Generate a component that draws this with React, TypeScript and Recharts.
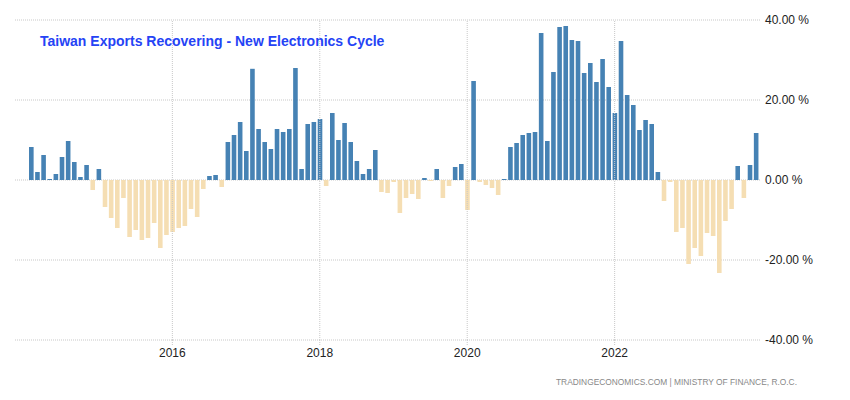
import React from "react";
import {
  BarChart,
  Bar,
  Cell,
  XAxis,
  YAxis,
  CartesianGrid,
  ReferenceLine,
} from "recharts";

// Taiwan exports, YoY % change, monthly Feb 2014 .. Dec 2023
const MONTHS = ["Jan", "Feb", "Mar", "Apr", "May", "Jun", "Jul", "Aug", "Sep", "Oct", "Nov", "Dec"];
const YEARS = [2014, 2015, 2016, 2017, 2018, 2019, 2020, 2021, 2022, 2023];

const exportsYoY = [
  // 2014 (Feb-Dec)
  8.25, 2.0, 6.25, 0.25, 1.5, 5.75, 9.75, 4.5, 0.75, 3.75, -2.5,
  // 2015
  2.75, -6.75, -9.5, -12, -4.5, -14.25, -12.5, -15, -14.5, -10.75, -17, -13.75,
  // 2016
  -13, -12, -11.5, -7.25, -9.25, -2.25, 1.0, 1.25, -1.75, 9.5, 11.25, 14.5,
  // 2017
  7.25, 27.8, 12.75, 9.5, 7.75, 12.75, 12, 12.75, 28, 2.75, 14, 14.5,
  // 2018
  15.25, -1.5, 16.75, 10, 14.25, 9.5, 4.75, 1.5, 2.75, 7.5, -3, -3.25,
  // 2019
  -0.5, -8.25, -4.5, -3.5, -4.75, 0.5, -0.25, 2.75, -4.5, -1.5, 3.25, 4.0,
  // 2020
  -7.5, 24.75, -0.5, -1.25, -2.0, -3.75, 0.25, 8.25, 9.25, 11.25, 11.75, 12.0,
  // 2021
  36.75, 9.75, 27, 38.25, 38.5, 35, 34.75, 26.75, 29.25, 24.5, 30.25, 23.25,
  // 2022
  16.75, 34.75, 21.25, 18.75, 12.5, 15, 14, 2, -5.25, -0.5, -13, -12,
  // 2023
  -21, -17, -19, -13.25, -14, -23.25, -10.25, -7.25, 3.5, -4.5, 3.75, 11.75,
];

const categories: string[] = YEARS.flatMap((y) => MONTHS.map((m) => `${m} ${y}`)).slice(1);

const xTicks = ["Jan 2016", "Jan 2018", "Jan 2020", "Jan 2022"];
const yTicks = [-40, -20, 0, 20, 40];

const data = categories.map((date, i) => ({ date, value: exportsYoY[i] }));

const POS = "#4682b4";
const NEG = "#f5deb3";
const GRID = "#c8c8c8";
const FONT = "'Liberation Sans', Arial, sans-serif";

export default function App() {
  return (
    <div
      style={{
        position: "absolute",
        left: 0,
        top: 0,
        width: 850,
        height: 400,
        background: "#fff",
        fontFamily: FONT,
      }}
    >
      <BarChart
        width={850}
        height={400}
        data={data}
        margin={{ top: 20, right: 0, bottom: 30, left: 15 }}
      >
        <CartesianGrid stroke={GRID} strokeDasharray="1 1" vertical={false} />
        {xTicks.map((t) => (
          <ReferenceLine key={t} x={t} stroke={GRID} strokeDasharray="1 1" />
        ))}
        <XAxis
          dataKey="date"
          ticks={xTicks}
          interval={0}
          tickFormatter={(v: string) => v.slice(4)}
          padding={{ left: 13, right: 1 }}
          height={30}
          axisLine={false}
          tickLine={{ stroke: GRID, strokeDasharray: "1 1" }}
          tickSize={5}
          tickMargin={3}
          tick={{ fill: "#222", fontSize: 12, fontFamily: FONT }}
        />
        <YAxis
          orientation="right"
          domain={[-40, 40]}
          ticks={yTicks}
          width={90}
          axisLine={false}
          tickLine={false}
          tickSize={0}
          tickMargin={5}
          tickFormatter={(v: number) => `${v.toFixed(2)} %`}
          tick={{ fill: "#222", fontSize: 12, fontFamily: FONT }}
        />
        <Bar dataKey="value" barSize={4.6} isAnimationActive={false}>
          {data.map((d) => (
            <Cell key={d.date} fill={d.value >= 0 ? POS : NEG} />
          ))}
        </Bar>
      </BarChart>
      <div
        style={{
          position: "absolute",
          left: 40,
          top: 33,
          color: "#2543f5",
          fontWeight: "bold",
          fontSize: 14,
          whiteSpace: "nowrap",
        }}
      >
        Taiwan Exports Recovering - New Electronics Cycle
      </div>
      <div
        style={{
          position: "absolute",
          right: 53,
          top: 377,
          color: "#888",
          fontSize: 8.4,
          letterSpacing: 0,
          whiteSpace: "nowrap",
        }}
      >
        TRADINGECONOMICS.COM | MINISTRY OF FINANCE, R.O.C.
      </div>
    </div>
  );
}
